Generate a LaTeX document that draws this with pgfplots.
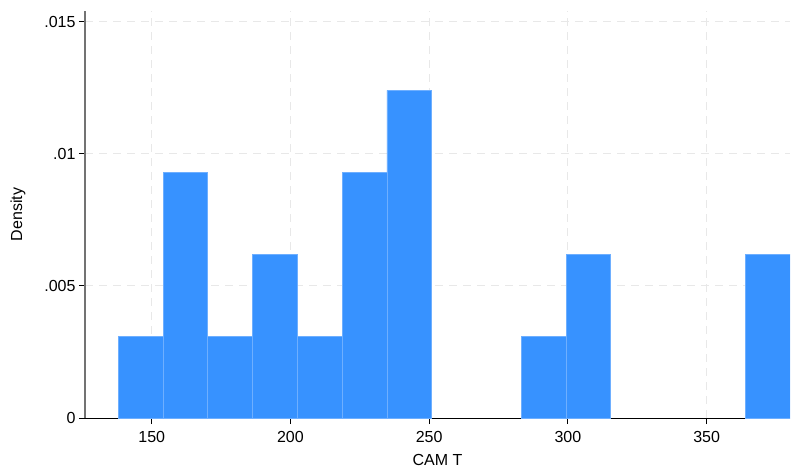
\documentclass[border=0pt]{standalone}
\usepackage{pgfplots}
\pgfplotsset{compat=1.18}
\usepackage{fontspec}
\setmainfont{Liberation Sans}
\definecolor{barblue}{RGB}{55,146,255}
\definecolor{baredge}{RGB}{110,175,255}
\definecolor{gridgray}{RGB}{232,232,232}
\tikzset{histbar/.style={ybar interval, fill=barblue, draw=baredge, line width=0.8pt}}
\begin{document}
\begin{tikzpicture}
\begin{axis}[
    scale only axis,
    width=705bp, height=407bp,
    at={(0,0)}, anchor=south west,
    xmin=125.95, xmax=380.06,
    ymin=0, ymax=0.0154,
    axis x line*=bottom,
    axis y line*=left,
    x axis line style={black, line width=1bp},
    y axis line style={black!55, line width=1.2bp},
    xtick={150,200,250,300,350},
    ytick={0,0.005,0.01,0.015},
    yticklabels={0,.005,.01,.015},
    tick align=outside,
    major tick length=6bp,
    tick style={black, line width=0.8bp},
    grid=major,
    major grid style={gridgray, dash pattern=on 8bp off 6bp, line width=0.8pt},
    font=\fontsize{16bp}{19bp}\selectfont,
    ticklabel style={font=\fontsize{16bp}{19bp}\selectfont},
    xticklabel style={yshift=-4bp},
    /pgf/number format/assume math mode=true,
    xlabel={CAM T},
    ylabel={Density},
    xlabel style={at={(axis description cs:0.5,-0.1032)}, anchor=center},
    ylabel style={at={(axis description cs:-0.095,0.5)}, anchor=center},
]
\addplot[histbar] coordinates {
    (137.96,0.003098)
    (154.10,0.009294)
    (170.24,0.003098)
    (186.38,0.006196)
    (202.52,0.003098)
    (218.66,0.009294)
    (234.80,0.012392)
    (250.94,0)
};
\addplot[histbar] coordinates {
    (283.22,0.003098)
    (299.36,0.006196)
    (315.50,0)
};
\addplot[histbar] coordinates {
    (363.92,0.006196)
    (380.06,0)
};
\end{axis}
\pgfresetboundingbox
\path (-85bp,-50bp) rectangle (706bp,418bp);
\end{tikzpicture}
\end{document}
